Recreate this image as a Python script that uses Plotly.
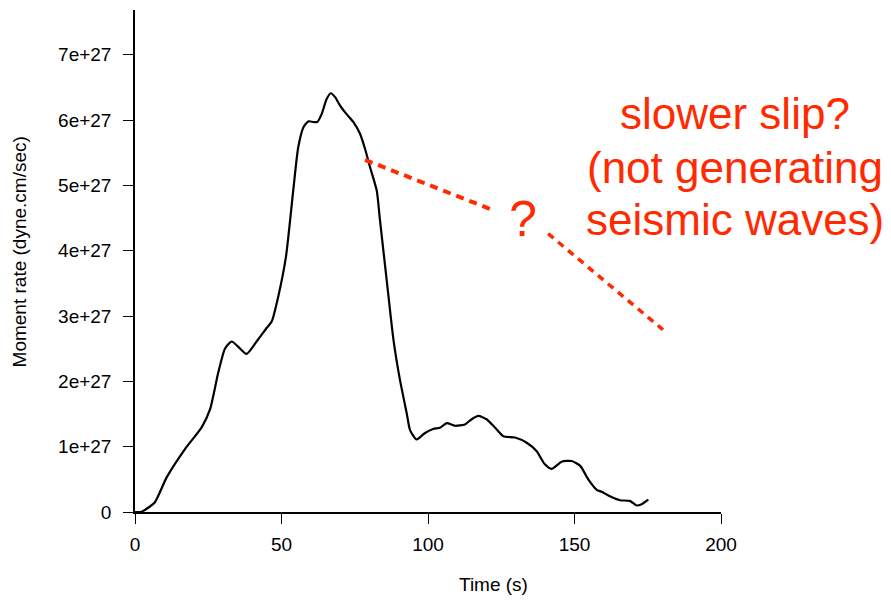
import plotly.graph_objects as go

# Moment-rate function (values in units of 1e27 dyne.cm/sec)
time_s = [0, 2, 4, 6.8, 10.8, 17, 22.8, 25.6, 28.4, 30.7, 33, 35.2, 38.1, 41.5, 45, 46.7,
          48.9, 51.5, 54, 55.7, 57.5, 59.2, 60.9, 62.2, 63.7, 65.4, 66.8, 68.3, 70, 72.2,
          74.5, 76.8, 78.5, 80.2, 82.5, 83.6, 85.9, 88.2, 90.4, 92.7, 93.9, 96.1, 99,
          101.8, 104.1, 106.4, 109.2, 112.6, 114.9, 117.2, 120, 122.9, 125.7, 129.7, 133.7,
          137.1, 139.9, 142.2, 145.6, 149, 151.9, 154.7, 157.6, 159.3, 162.1, 165.5, 168.9,
          171.2, 172.9, 175.2]
rate_e27 = [0, 0.0, 0.05, 0.15, 0.53, 0.96, 1.3, 1.57, 2.13, 2.5, 2.61, 2.53, 2.42, 2.61,
            2.82, 2.92, 3.3, 3.9, 4.92, 5.58, 5.89, 5.98, 5.97, 5.97, 6.09, 6.32, 6.41, 6.35,
            6.22, 6.09, 5.97, 5.79, 5.56, 5.28, 4.92, 4.47, 3.55, 2.64, 2.03, 1.52, 1.25,
            1.11, 1.21, 1.27, 1.29, 1.36, 1.32, 1.34, 1.42, 1.47, 1.42, 1.29, 1.16, 1.14,
            1.06, 0.93, 0.73, 0.66, 0.77, 0.78, 0.71, 0.5, 0.34, 0.31, 0.24, 0.18, 0.17,
            0.1, 0.12, 0.19]
SCALE = 1e27
rate = [v * SCALE for v in rate_e27]

x_tickvals = [0, 50, 100, 150, 200]
x_ticktext = ["0", "50", "100", "150", "200"]
y_tickvals = [i * SCALE for i in range(8)]
y_ticktext = ["0", "1e+27", "2e+27", "3e+27", "4e+27", "5e+27", "6e+27", "7e+27"]

x_title = "Time (s)"
y_title = "Moment rate (dyne.cm/sec)"
note_lines = ["slower slip?", "(not generating", "seismic waves)"]

RED = "#FF2A00"
FONT = "Liberation Sans, Arial, Helvetica, sans-serif"

fig = go.Figure()
fig.add_trace(go.Scatter(x=time_s, y=rate, mode="lines",
                         line=dict(color="black", width=2.2, shape="spline", smoothing=0.6),
                         hoverinfo="skip", showlegend=False))

# dashed annotation lines (data coordinates)
fig.add_shape(type="line", xref="x", yref="y", x0=78.5, y0=5.39 * SCALE, x1=122.8, y1=4.61 * SCALE,
              line=dict(color=RED, width=4, dash="8px,6px"))
fig.add_shape(type="line", xref="x", yref="y", x0=141.0, y0=4.26 * SCALE, x1=180.2, y1=2.79 * SCALE,
              line=dict(color=RED, width=3.5, dash="7px,6px"))

fig.add_annotation(x=132.4, y=4.49 * SCALE, xref="x", yref="y", text="?", showarrow=False,
                   font=dict(family=FONT, size=50, color=RED), xanchor="center", yanchor="middle")
for txt, yp in zip(note_lines, [0.793, 0.686, 0.582]):
    fig.add_annotation(x=1.024, y=yp, xref="paper", yref="paper", text=txt, showarrow=False,
                       font=dict(family=FONT, size=44, color=RED), xanchor="center", yanchor="middle")

# axis titles
fig.add_annotation(x=(494 - 134.5) / 2.935, y=-0.145, xref="x", yref="paper", text=x_title,
                   showarrow=False, font=dict(family=FONT, size=19, color="black"),
                   xanchor="center", yanchor="middle")
fig.add_annotation(x=-0.197, y=(512.3 - 252) / 502.3, xref="paper", yref="paper", text=y_title,
                   textangle=-90, showarrow=False, font=dict(family=FONT, size=19, color="black"),
                   xanchor="center", yanchor="middle")

fig.update_layout(
    width=891, height=601,
    margin=dict(l=134.5, r=170, t=10, b=88.7, autoexpand=False),
    plot_bgcolor="white", paper_bgcolor="white",
    font=dict(family=FONT, size=19, color="black"),
    xaxis=dict(range=[0, 200], tickvals=x_tickvals, ticktext=x_ticktext,
               showline=True, linecolor="black", linewidth=1.5, showgrid=False, zeroline=False,
               ticks="outside", ticklen=10, tickwidth=1, tickcolor="black",
               ticklabelstandoff=4),
    yaxis=dict(range=[0, 7.684 * SCALE], tickvals=y_tickvals, ticktext=y_ticktext,
               showline=True, linecolor="black", linewidth=1.5, showgrid=False, zeroline=False,
               ticks="outside", ticklen=10, tickwidth=1, tickcolor="black",
               ticklabelstandoff=8),
)

fig.write_html("out.html")
